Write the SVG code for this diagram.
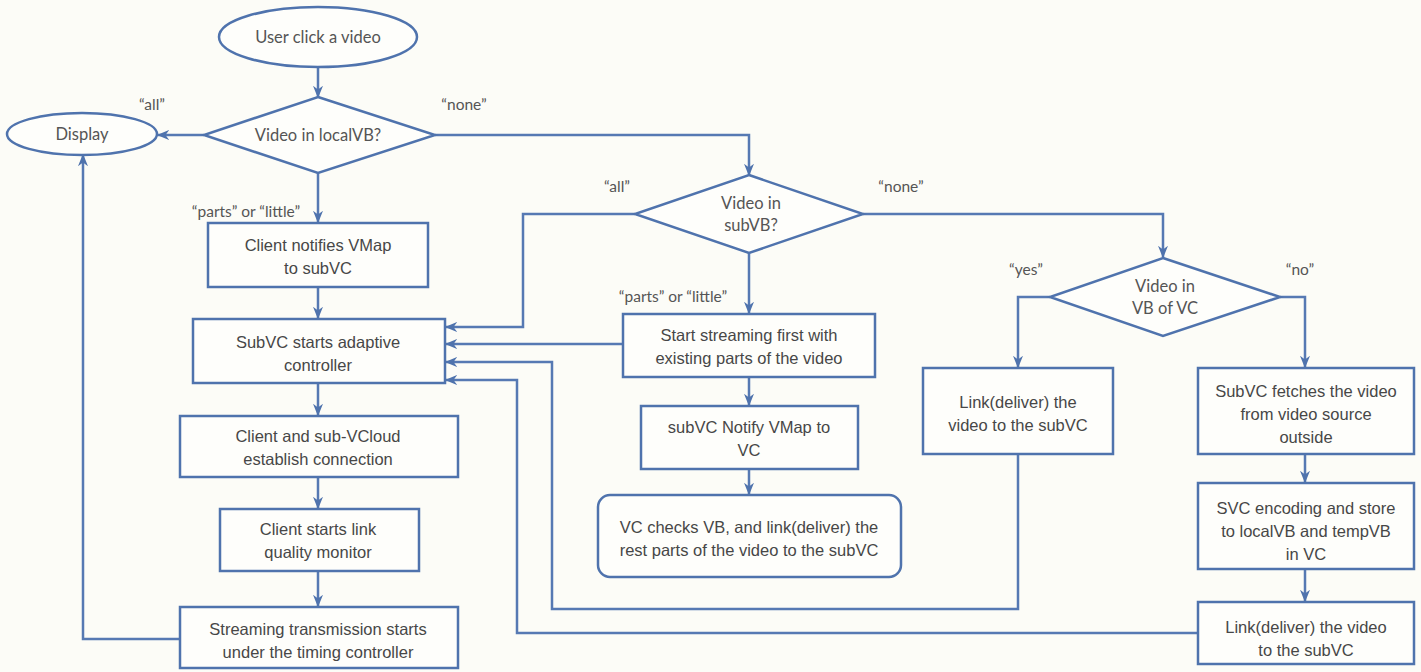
<svg xmlns="http://www.w3.org/2000/svg" width="1421" height="672" viewBox="0 0 1421 672">
  <defs>
    <marker id="arrow" viewBox="0 0 10 10" refX="9" refY="5" markerWidth="5" markerHeight="5" orient="auto" markerUnits="strokeWidth">
      <path d="M0,1 L10,5 L0,9 L3,5 Z" fill="#4f73ad"/>
    </marker>
    <style>
      .shape { fill: #fefefb; stroke: #4f73ad; stroke-width: 2.5; }
      .wire { fill: none; stroke: #5679b3; stroke-width: 2.5; marker-end: url(#arrow); }
      .box { font-family: "Liberation Sans", Arial, sans-serif; font-size: 16.5px; fill: #474747; text-anchor: middle; }
      .dec { font-family: "Lato", "Liberation Sans", sans-serif; font-size: 16.5px; fill: #555555; text-anchor: middle; }
      .term { font-family: "Lato", "Liberation Sans", sans-serif; font-size: 16.5px; fill: #555555; text-anchor: middle; }
      .lbl { font-family: "Lato", "Liberation Sans", sans-serif; font-size: 15.5px; fill: #555555; text-anchor: middle; }
    </style>
  </defs>

  <rect width="1421" height="672" fill="#fcfcf7"/>

  <!-- connectors -->
  <g id="connectors">
    <line class="wire" x1="318" y1="67" x2="318" y2="97"/>
    <line class="wire" x1="204" y1="135" x2="158" y2="135"/>
    <line class="wire" x1="318" y1="173" x2="318" y2="222"/>
    <polyline class="wire" points="435,135 749,135 749,175"/>
    <line class="wire" x1="318" y1="287" x2="318" y2="318"/>
    <line class="wire" x1="318" y1="383" x2="318" y2="415"/>
    <line class="wire" x1="318" y1="477" x2="318" y2="508"/>
    <line class="wire" x1="318" y1="571" x2="318" y2="606"/>
    <polyline class="wire" points="180,639 83,639 83,155"/>
    <polyline class="wire" points="635,214 523,214 523,327 446,327"/>
    <line class="wire" x1="749" y1="253" x2="749" y2="313"/>
    <line class="wire" x1="623" y1="344" x2="446" y2="344"/>
    <line class="wire" x1="749" y1="377" x2="749" y2="405"/>
    <line class="wire" x1="749" y1="469" x2="749" y2="494"/>
    <polyline class="wire" points="863,214 1163,214 1163,257"/>
    <polyline class="wire" points="1050,297 1018,297 1018,367"/>
    <polyline class="wire" points="1280,297 1305,297 1305,367"/>
    <line class="wire" x1="1305" y1="454" x2="1305" y2="482"/>
    <line class="wire" x1="1305" y1="569" x2="1305" y2="601"/>
    <polyline class="wire" points="1018,454 1018,609 552,609 552,362 446,362"/>
    <polyline class="wire" points="1198,633 517,633 517,380 446,380"/>
  </g>

  <!-- branch labels -->
  <g id="labels">
    <text class="lbl" x="152" y="110">“all”</text>
    <text class="lbl" x="464" y="110">“none”</text>
    <text class="lbl" x="246" y="217">“parts” or “little”</text>
    <text class="lbl" x="617" y="192">“all”</text>
    <text class="lbl" x="901" y="192">“none”</text>
    <text class="lbl" x="673" y="302">“parts” or “little”</text>
    <text class="lbl" x="1026" y="275">“yes”</text>
    <text class="lbl" x="1300" y="275">“no”</text>
  </g>

  <g id="start">
    <ellipse class="shape" cx="318" cy="37" rx="99" ry="30"/>
    <text class="term" x="318" y="43">User click a video</text>
  </g>

  <g id="display">
    <ellipse class="shape" cx="82" cy="134" rx="75" ry="21"/>
    <text class="term" x="82" y="140">Display</text>
  </g>

  <g id="local-vb">
    <polygon class="shape" points="318,97 435,135 318,173 204,135"/>
    <text class="dec" x="318" y="141">Video in localVB?</text>
  </g>

  <g id="notify-vmap">
    <rect class="shape" x="208" y="223" width="220" height="64"/>
    <text class="box" x="318" y="251">Client notifies VMap</text>
    <text class="box" x="318" y="274">to subVC</text>
  </g>

  <g id="adaptive">
    <rect class="shape" x="193" y="319" width="252" height="64"/>
    <text class="box" x="318" y="348">SubVC starts adaptive</text>
    <text class="box" x="318" y="371">controller</text>
  </g>

  <g id="connection">
    <rect class="shape" x="180" y="416" width="278" height="61"/>
    <text class="box" x="318" y="442">Client and sub-VCloud</text>
    <text class="box" x="318" y="465">establish connection</text>
  </g>

  <g id="monitor">
    <rect class="shape" x="220" y="509" width="199" height="62"/>
    <text class="box" x="318" y="535">Client starts link</text>
    <text class="box" x="318" y="558">quality monitor</text>
  </g>

  <g id="streaming">
    <rect class="shape" x="180" y="607" width="278" height="61"/>
    <text class="box" x="318" y="635">Streaming transmission starts</text>
    <text class="box" x="318" y="658">under the timing controller</text>
  </g>

  <g id="sub-vb">
    <polygon class="shape" points="749,175 863,214 749,253 635,214"/>
    <text class="dec" x="751" y="209">Video in</text>
    <text class="dec" x="751" y="231">subVB?</text>
  </g>

  <g id="start-streaming">
    <rect class="shape" x="623" y="314" width="252" height="63"/>
    <text class="box" x="749" y="341">Start streaming first with</text>
    <text class="box" x="749" y="364">existing parts of the video</text>
  </g>

  <g id="notify-vc">
    <rect class="shape" x="641" y="406" width="217" height="63"/>
    <text class="box" x="749" y="433">subVC Notify VMap  to</text>
    <text class="box" x="749" y="456">VC</text>
  </g>

  <g id="vc-checks">
    <rect class="shape" x="598" y="495" width="303" height="82" rx="12"/>
    <text class="box" x="749" y="533">VC checks VB, and link(deliver) the</text>
    <text class="box" x="749" y="556">rest parts of the video to the subVC</text>
  </g>

  <g id="vb-of-vc">
    <polygon class="shape" points="1163,258 1280,297 1163,336 1050,297"/>
    <text class="dec" x="1165" y="292">Video in</text>
    <text class="dec" x="1165" y="314">VB of VC</text>
  </g>

  <g id="link-yes">
    <rect class="shape" x="923" y="368" width="190" height="86"/>
    <text class="box" x="1018" y="408">Link(deliver) the</text>
    <text class="box" x="1018" y="431">video to the subVC</text>
  </g>

  <g id="fetch">
    <rect class="shape" x="1198" y="368" width="216" height="86"/>
    <text class="box" x="1306" y="397">SubVC fetches the video</text>
    <text class="box" x="1306" y="420">from video source</text>
    <text class="box" x="1306" y="443">outside</text>
  </g>

  <g id="encode">
    <rect class="shape" x="1198" y="483" width="216" height="86"/>
    <text class="box" x="1306" y="514">SVC encoding and store</text>
    <text class="box" x="1306" y="537">to localVB and tempVB</text>
    <text class="box" x="1306" y="560">in VC</text>
  </g>

  <g id="link-no">
    <rect class="shape" x="1198" y="602" width="216" height="62"/>
    <text class="box" x="1306" y="633">Link(deliver) the video</text>
    <text class="box" x="1306" y="656">to the subVC</text>
  </g>
</svg>
